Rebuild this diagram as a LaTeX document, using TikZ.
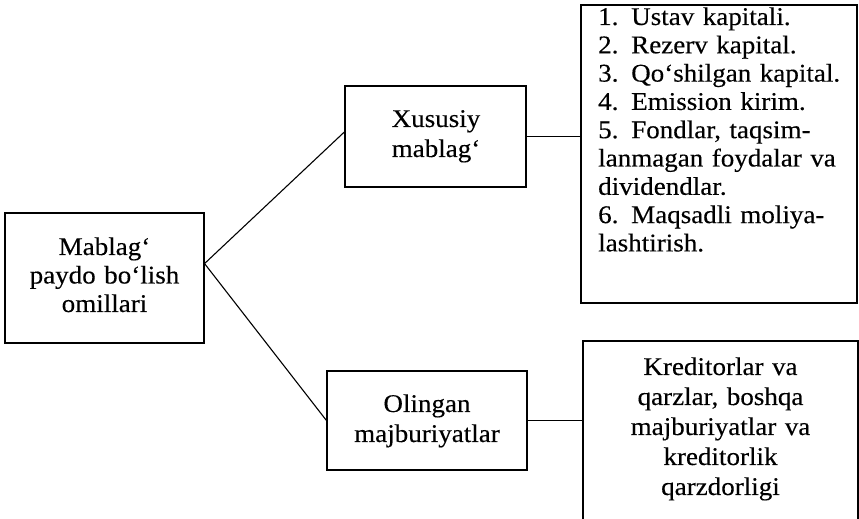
\documentclass[tikz,border=0pt]{standalone}
\usepackage{fontspec}
\setmainfont{Liberation Serif}[FakeStretch=1.06, WordSpace=2.6, FakeBold=0.3]
\usetikzlibrary{calc}
\tikzset{
  box/.style={draw, line width=1.1pt, inner sep=0pt},
  txt/.style={inner sep=0pt, align=center, font=\fontsize{25.5}{30}\selectfont},
  conn/.style={line width=1.1pt}
}
\begin{document}
\begin{tikzpicture}[x=1pt,y=1pt]
\clip (0,0) rectangle (859,519);
% boxes
\node[box, minimum width=199pt, minimum height=130pt] (lbox) at (104.5,241) {};
\node[box, minimum width=181pt, minimum height=101pt] (xbox) at (435.5,382.5) {};
\node[box, minimum width=276pt, minimum height=298pt] (rbox) at (719,365) {};
\node[box, minimum width=200pt, minimum height=99pt] (obox) at (427,98.5) {};
\node[box, minimum width=275pt, minimum height=230pt] (kbox) at (720.5,63) {};
% texts
\node[txt, text width=190pt, anchor=base, font=\fontsize{25.5}{28.5}\selectfont] (ltext) at (104.5,264) {Mablag‘\\paydo bo‘lish\\omillari};
\node[txt, text width=175pt, anchor=base] (xtext) at (436,392) {Xususiy\\mablag‘};
\node[txt, text width=195pt, anchor=base] (otext) at (427,107) {Olingan\\majburiyatlar};
\node[txt, text width=265pt, anchor=base] (ktext) at (720.5,144) {Kreditorlar va\\qarzlar, boshqa\\majburiyatlar va\\kreditorlik\\qarzdorligi};
\node[txt, align=left, text width=256pt, anchor=base west, font=\fontsize{25.5}{28.3}\selectfont] (rtext) at (598,494) {%
1. Ustav kapitali.\\
2. Rezerv kapital.\\
\mbox{3. Qo‘shilgan kapital.}\\
4. Emission kirim.\\
\makebox[242pt][s]{5. Fondlar, taqsim-}\\
\makebox[242pt][s]{lanmagan foydalar va}\\
dividendlar.\\
\makebox[242pt][s]{6. Maqsadli moliya-}\\
lashtirish.};
% connectors
\coordinate (lj) at ($(lbox.north east)!0.39!(lbox.south east)$);
\coordinate (xj) at ($(xbox.north west)!0.455!(xbox.south west)$);
\draw[conn] (lj) -- (xj);
\draw[conn] (lj) -- (obox.west);
\draw[conn] (xbox.east) -- (rbox.west |- xbox.east);
\draw[conn] (obox.east) -- (kbox.west |- obox.east);
\end{tikzpicture}
\end{document}
